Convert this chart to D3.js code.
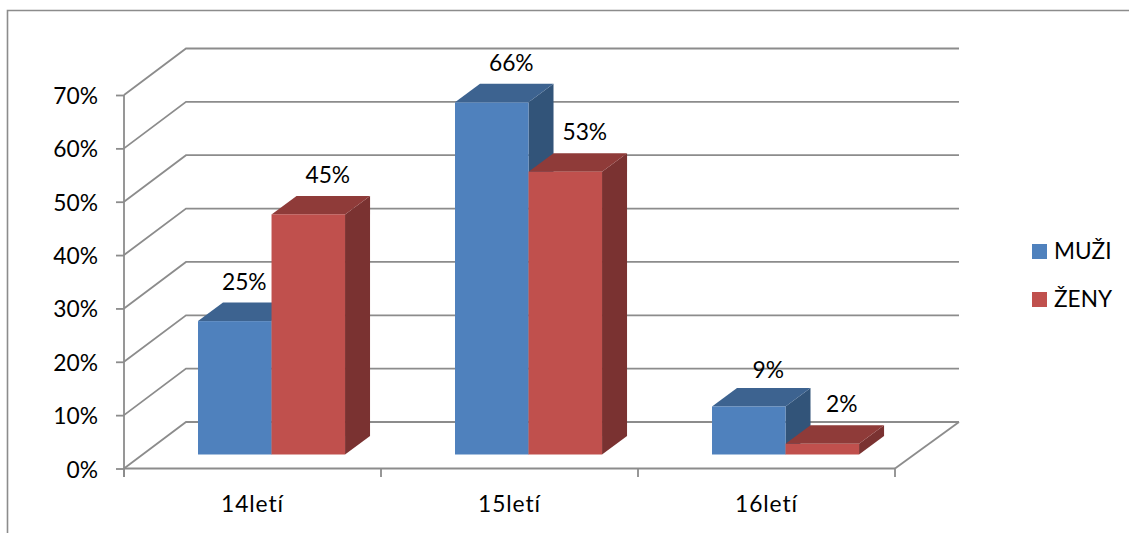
<!DOCTYPE html>
<html><head><meta charset="utf-8">
<script src="https://cdn.jsdelivr.net/npm/d3@7/dist/d3.min.js"></script>
<style>html,body{margin:0;padding:0;background:#fff}svg{display:block}text{font-family:Lato,"Open Sans",sans-serif;fill:#000}</style>
</head><body><svg id="c" width="1129" height="533"></svg>
<script>
const categories = ["14letí", "15letí", "16letí"];
const seriesNames = ["MUŽI", "ŽENY"];
const muzi = [0.25, 0.66, 0.09];
const zeny = [0.45, 0.53, 0.02];
const yTicks = [0, 0.1, 0.2, 0.3, 0.4, 0.5, 0.6, 0.7];

const seriesValues = [muzi, zeny];
const faceColors = ["#4f81bd", "#c0504d"];
const topColors = ["#3d6390", "#8f3b39"];
const sideColors = ["#325479", "#7a3231"];
const gridColor = "#8c8c8c", FS = 22.8;
const wallDx = 62, wallDy = -46.5;   // floor depth of the 3D box
const barDx = 25, barDy = -18.5;     // depth of each bar
const barShift = -14;                // bars stand inside the floor

const svg = d3.select("#c");
const x0 = d3.scaleBand().domain(categories).range([124, 895]);
const x1 = d3.scaleBand().domain(seriesNames).range([0, x0.bandwidth()]).paddingOuter(0.748).paddingInner(0).align(0.673);
const y = d3.scaleLinear().domain([0, 0.7]).range([468.5, 95]);

// chart frame (open at right and bottom)
svg.append("path").attr("d", d3.line()([[7.5, 533], [7.5, 10.5], [1129, 10.5]]))
  .attr("fill", "none").attr("stroke", gridColor).attr("stroke-width", 1.6);

// walls
const grid = svg.append("g").attr("fill", "none").attr("stroke", gridColor).attr("stroke-width", 1.8);
grid.selectAll("path").data(yTicks).join("path")
  .attr("d", t => d3.line()([[124, y(t)], [124 + wallDx, y(t) + wallDy], [959, y(t) + wallDy]]));
grid.append("path").attr("d", d3.line()([[895, y(0)], [959, y(0) + wallDy]]));

// axes
const yAxis = d3.axisLeft(y).tickValues(yTicks).tickFormat(d3.format(".0%")).tickSize(8).tickPadding(18);
const xAxis = d3.axisBottom(x0).tickSize(0).tickPadding(24);
const gy = svg.append("g").attr("transform", "translate(124,0)").call(yAxis);
const gx = svg.append("g").attr("transform", `translate(0,${y(0)})`).call(xAxis);
gx.selectAll(".sep").data(d3.range(categories.length + 1)).join("line").attr("class", "sep")
  .attr("x1", i => 124 + i * x0.step()).attr("x2", i => 124 + i * x0.step())
  .attr("y1", 0).attr("y2", 8.5);
[gy, gx].forEach(g => {
  g.selectAll("path.domain,line").attr("stroke", gridColor).attr("stroke-width", 1.8);
  g.selectAll("text").attr("font-size", FS).attr("fill", "#000");
});
gy.selectAll("text").attr("dy", null).attr("y", 8.5);
gy.select("path.domain").attr("d", `M0,${y(0) + 8.5}V${y(0.7)}`);
gx.select("path.domain").attr("d", "M124,0H895");
gx.selectAll("text").attr("dy", null).attr("y", 43.5).attr("letter-spacing", 0.9);

// bars: blue first, red in front of it
const bars = [];
categories.forEach((c, ci) => seriesNames.forEach((s, si) => bars.push({c, s, si, v: seriesValues[si][ci]})));
const bw = x1.bandwidth(), base = y(0) + barShift;
const g = svg.append("g").selectAll("g").data(bars).join("g");
const left = d => x0(d.c) + x1(d.s), top_ = d => y(d.v) + barShift;
g.append("path").attr("fill", d => sideColors[d.si]).attr("d", d => d3.line()([
  [left(d) + bw, top_(d)], [left(d) + bw + barDx, top_(d) + barDy], [left(d) + bw + barDx, base + barDy], [left(d) + bw, base]]));
g.append("path").attr("fill", d => topColors[d.si]).attr("d", d => d3.line()([
  [left(d), top_(d)], [left(d) + barDx, top_(d) + barDy], [left(d) + bw + barDx, top_(d) + barDy], [left(d) + bw, top_(d)]]));
g.append("rect").attr("fill", d => faceColors[d.si]).attr("x", left).attr("y", top_).attr("width", bw).attr("height", d => base - top_(d));

// data labels (two were moved by hand in the original)
const nudgeX = d => (d.c === categories[0] && d.si === 0) ? -10 : 0;
const nudgeY = d => (d.c === categories[2] && d.si === 0) ? 3.5 : 0;
svg.append("g").selectAll("text").data(bars).join("text")
  .attr("x", d => left(d) + bw / 2 + 19.5 + nudgeX(d))
  .attr("y", d => top_(d) - 31.5 + nudgeY(d))
  .attr("text-anchor", "middle").attr("font-size", FS)
  .text(d => d3.format(".0%")(d.v));

// legend
const leg = svg.append("g").selectAll("g").data(seriesNames).join("g")
  .attr("transform", (d, i) => `translate(1032,${244 + i * 48})`);
leg.append("rect").attr("width", 15).attr("height", 15).attr("fill", (d, i) => faceColors[i]);
leg.append("text").attr("x", 22).attr("y", 15).attr("font-size", 22.6).text(d => d);
</script></body></html>
